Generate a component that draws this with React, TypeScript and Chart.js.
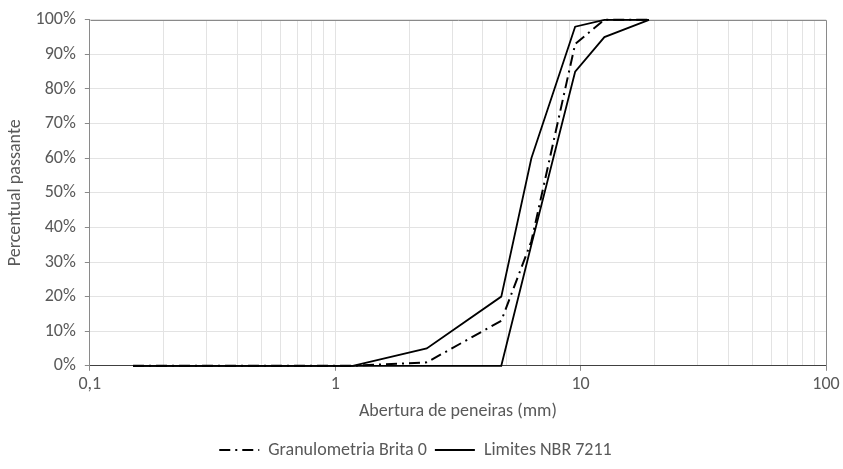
import React, { useEffect, useRef } from "react";
import { Chart, registerables } from "chart.js";

Chart.register(...registerables);

// Sieve openings (mm)
const sieveOpenings = [0.15, 0.3, 0.6, 1.18, 2.36, 4.75, 6.3, 9.5, 12.5, 19];
// Percent passing
const brita0Passing = [0, 0, 0, 0, 1, 13, 36, 93, 100, 100];
const upperLimit = [0, 0, 0, 0, 5, 20, 60, 98, 100, 100];
const lowerLimit = [0, 0, 0, 0, 0, 0, 35, 85, 95, 100];

// Log-axis grid values
const xGridValues = [
  0.1, 0.2, 0.3, 0.4, 0.5, 0.6, 0.7, 0.8, 0.9,
  1, 2, 3, 4, 5, 6, 7, 8, 9,
  10, 20, 30, 40, 50, 60, 70, 80, 90,
  100,
];
const xLabelValues = [0.1, 1, 10, 100];

const FONT = "Carlito, Calibri, Lato, sans-serif";
const FS = 18;
const TEXT = "#595959";

const isLabelled = (v: number) => xLabelValues.some((l) => Math.abs(l - v) < 1e-9);
const pts = (ys: number[]) => sieveOpenings.map((x, i) => ({ x, y: ys[i] }));

const boxPlugin = {
  id: "plotBox",
  beforeDatasetsDraw(chart: any) {
    const { ctx, chartArea: a } = chart;
    ctx.save();
    ctx.strokeStyle = "#8a8a8a";
    ctx.lineWidth = 1;
    ctx.beginPath();
    ctx.moveTo(Math.round(a.left) + 0.5, Math.round(a.top) + 0.5);
    ctx.lineTo(Math.round(a.right) + 0.5, Math.round(a.top) + 0.5);
    ctx.lineTo(Math.round(a.right) + 0.5, Math.round(a.bottom) + 0.5);
    ctx.stroke();
    ctx.restore();
  },
};

export default function App() {
  const ref = useRef<HTMLCanvasElement | null>(null);

  useEffect(() => {
    if (!ref.current) return;
    const chart = new Chart(ref.current, {
      type: "line",
      data: {
        datasets: [
          {
            label: "Granulometria Brita 0",
            data: pts(brita0Passing),
            borderColor: "#000",
            backgroundColor: "#000",
            borderWidth: 2,
            borderDash: [11, 5, 2, 5],
            pointRadius: 0,
            pointStyle: "line",
            tension: 0,
            clip: 4,
          },
          {
            label: "Limites NBR 7211",
            data: pts(upperLimit),
            borderColor: "#000",
            backgroundColor: "#000",
            borderWidth: 1.8,
            pointRadius: 0,
            pointStyle: "line",
            tension: 0,
            clip: 4,
          },
          {
            label: "Limites NBR 7211 (inferior)",
            data: pts(lowerLimit),
            borderColor: "#000",
            backgroundColor: "#000",
            borderWidth: 1.8,
            pointRadius: 0,
            pointStyle: "line",
            tension: 0,
            clip: 4,
          },
        ],
      },
      options: {
        animation: false,
        responsive: true,
        maintainAspectRatio: false,
        layout: { padding: { top: 14, right: 17, left: 5, bottom: 0 } },
        plugins: {
          tooltip: { enabled: false },
          legend: {
            position: "bottom",
            labels: {
              usePointStyle: true,
              pointStyle: "line",
              pointStyleWidth: 40,
              color: TEXT,
              font: { family: FONT, size: FS },
              padding: 8,
              filter: (item: any) => item.datasetIndex !== 2,
              generateLabels: (c: any) => {
                const items = Chart.defaults.plugins.legend.labels.generateLabels(c);
                return items.map((it: any) => ({
                  ...it,
                  lineDash: (c.data.datasets[it.datasetIndex] as any).borderDash || [],
                  lineWidth: 2,
                }));
              },
            },
          },
        },
        scales: {
          x: {
            type: "logarithmic",
            min: 0.1,
            max: 100,
            afterBuildTicks: (scale: any) => {
              scale.ticks = xGridValues.map((v) => ({ value: v, major: isLabelled(v) }));
            },
            ticks: {
              autoSkip: false,
              maxRotation: 0,
              color: TEXT,
              font: { family: FONT, size: FS },
              padding: 3,
              callback: (v: any) => (isLabelled(Number(v)) ? String(v).replace(".", ",") : ""),
            },
            grid: {
              color: "#e3e3e3",
              lineWidth: 1,
              tickLength: 5,
              tickColor: (ctx: any) =>
                ctx.tick && isLabelled(ctx.tick.value) ? "#8a8a8a" : "rgba(0,0,0,0)",
            },
            border: { color: "#404040", width: 1 },
            title: {
              display: true,
              text: "Abertura de peneiras (mm)",
              color: TEXT,
              font: { family: FONT, size: FS },
              padding: { top: 2, bottom: 11 },
            },
          },
          y: {
            min: 0,
            max: 100,
            ticks: {
              stepSize: 10,
              color: TEXT,
              font: { family: FONT, size: FS },
              padding: 9,
              callback: (v: any) => `${v}%`,
            },
            grid: {
              color: "#e3e3e3",
              lineWidth: 1,
              tickLength: 5,
              tickColor: "#8a8a8a",
            },
            border: { color: "#8a8a8a", width: 1 },
            title: {
              display: true,
              text: "Percentual passante",
              color: TEXT,
              font: { family: FONT, size: FS },
              padding: { top: 0, bottom: 0 },
            },
          },
        },
      },
      plugins: [boxPlugin],
    });
    return () => chart.destroy();
  }, []);

  return (
    <div style={{ position: "fixed", left: 0, top: 0, width: 843, height: 469, background: "#fff" }}>
      <canvas ref={ref} />
    </div>
  );
}
